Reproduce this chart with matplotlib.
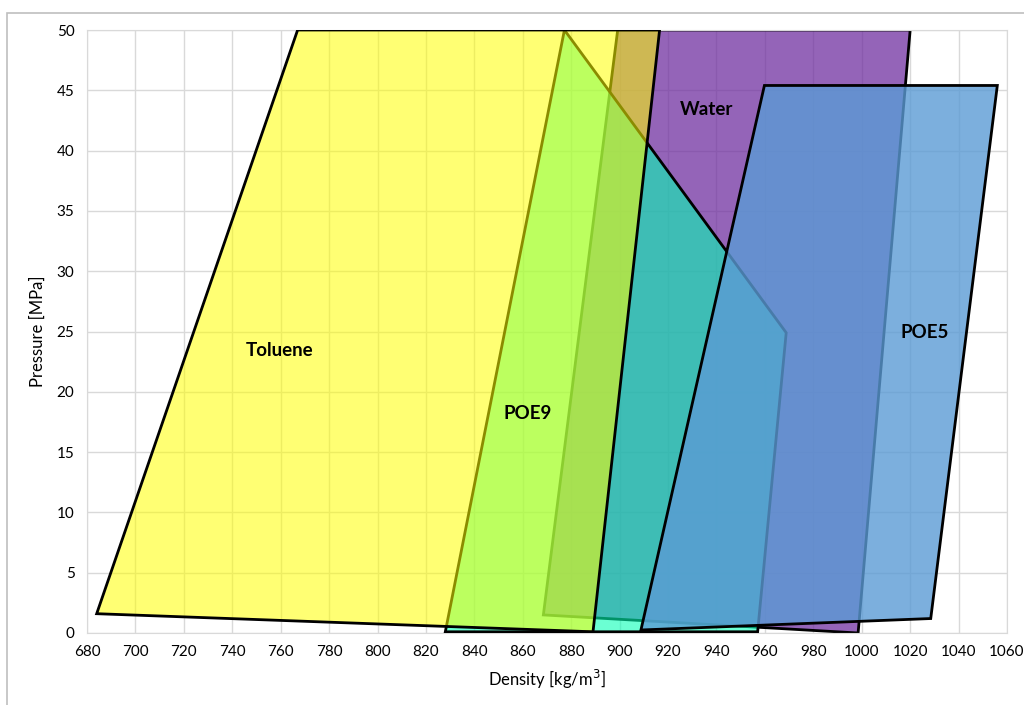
import matplotlib
matplotlib.use("Agg")
import matplotlib.pyplot as plt
from matplotlib.patches import Polygon, Rectangle

plt.rcParams['font.family'] = ['Lato', 'DejaVu Sans']

# polygon corners (density kg/m3, pressure MPa)
toluene_x = [684, 767, 916.5, 889]
toluene_y = [1.6, 50, 50, 0.1]

water_x = [868.5, 899.2, 1020, 998.5]
water_y = [1.5, 50, 50, 0.0]

poe9_x = [828, 877.2, 968.8, 957]
poe9_y = [0.1, 50, 24.9, 0.1]

poe5_x = [908.8, 959.8, 1056, 1028.5]
poe5_y = [0.25, 45.4, 45.4, 1.2]

labels = ['Toluene', 'POE9', 'Water', 'POE5']
label_x = [759.5, 862, 936, 1026]
label_y = [23.4, 18.2, 43.4, 24.9]

fig = plt.figure(figsize=(10.24, 7.05), dpi=100)
ax = fig.add_axes([87 / 1024, 1 - 633 / 705, 920 / 1024, 603 / 705])

# outer chart frame
fig.patches.append(Rectangle((7 / 1024, -0.05), 1.1, 1 - 13 / 705 + 0.05,
                             transform=fig.transFigure, fill=False,
                             edgecolor='#BFBFBF', linewidth=1.2))

# drawing order matters: overlaps mix through the transparency
shapes = [
    (water_x, water_y, '#7030A0', 0.75, 2),
    (poe9_x, poe9_y, '#00FFB4', 0.58, 3),
    (toluene_x, toluene_y, '#FFFF00', 0.55, 4),
    (poe5_x, poe5_y, '#5B9BD5', 0.8, 5),
]
for xs, ys, col, a, z in shapes:
    pts = list(zip(xs, ys))
    ax.add_patch(Polygon(pts, closed=True, facecolor=col, alpha=a,
                         edgecolor='none', zorder=z))
    ax.add_patch(Polygon(pts, closed=True, fill=False, edgecolor='black',
                         linewidth=2.0, joinstyle='miter', zorder=z + 0.1))

for t, x, y in zip(labels, label_x, label_y):
    ax.text(x, y, t, ha='center', va='center', fontsize=13.5,
            fontweight='bold', zorder=10)

ax.set_xlim(680, 1060)
ax.set_ylim(0, 50)
ax.set_xticks(range(680, 1061, 20))
ax.set_yticks(range(0, 51, 5))
ax.grid(True, color='#D9D9D9', linewidth=1)
ax.set_axisbelow(True)
for s in ax.spines.values():
    s.set_color('#D9D9D9')
ax.tick_params(length=0, labelsize=11, pad=9, colors='#000000')
ax.set_xlabel('Density [kg/m$^3$]', fontsize=12, labelpad=6)
ax.set_ylabel('Pressure [MPa]', fontsize=12, labelpad=8)

fig.savefig('out.png', dpi=100)
